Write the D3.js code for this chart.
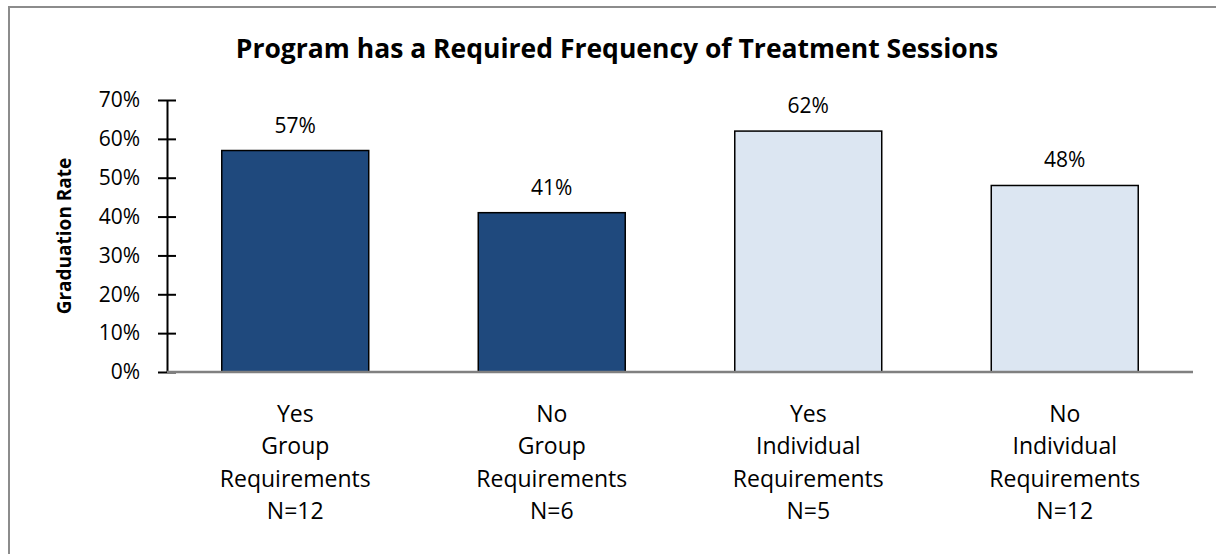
<!DOCTYPE html>
<html>
<head>
<meta charset="utf-8">
<script src="https://cdn.jsdelivr.net/npm/d3@7"></script>
<style>
  html, body { margin: 0; padding: 0; background: #fff; }
  svg { display: block; font-family: "Open Sans", Lato, sans-serif; }
</style>
</head>
<body>
<svg id="chart" width="1216" height="554"></svg>
<script>
const title = "Program has a Required Frequency of Treatment Sessions";
const yTitle = "Graduation Rate";
const answers = ["Yes", "No", "Yes", "No"];
const groups = ["Group", "Group", "Individual", "Individual"];
const nLabels = ["N=12", "N=6", "N=5", "N=12"];
const values = [57, 41, 62, 48];
const yTicks = [0, 10, 20, 30, 40, 50, 60, 70];
const groupColors = { "Group": "#1F497D", "Individual": "#DCE6F2" };

const svg = d3.select("#chart");
const W = 1216, H = 554;
const FONT = "'Open Sans', Lato, sans-serif";

// outer frame (clipped at right and bottom like the reference)
svg.append("rect")
  .attr("x", 9).attr("y", 7)
  .attr("width", W + 20).attr("height", H + 20)
  .attr("fill", "#fff")
  .attr("stroke", "#8c8c8c").attr("stroke-width", 2);

const plot = { left: 167, right: 1193, top: 100, bottom: 372 };

const x = d3.scaleBand()
  .domain(d3.range(values.length))
  .range([plot.left, plot.right])
  .paddingInner(0.427)
  .paddingOuter(0.2135);

const y = d3.scaleLinear()
  .domain([0, 70])
  .range([plot.bottom, plot.top]);

// title
svg.append("text")
  .attr("x", 617).attr("y", 58)
  .attr("text-anchor", "middle")
  .attr("font-weight", "bold")
  .attr("font-size", 26.5)
  .attr("fill", "#000")
  .text(title);

// y-axis title
svg.append("text")
  .attr("transform", `translate(71, ${(plot.top + plot.bottom) / 2}) rotate(-90)`)
  .attr("text-anchor", "middle")
  .attr("font-weight", "bold")
  .attr("font-size", 19)
  .attr("fill", "#000")
  .text(yTitle);

// y axis
const yAxis = d3.axisLeft(y)
  .tickValues(yTicks)
  .tickFormat(d => d + "%")
  .tickSizeInner(9)
  .tickSizeOuter(0)
  .tickPadding(18);

const gy = svg.append("g")
  .attr("transform", `translate(${plot.left},0)`)
  .call(yAxis);
gy.select(".domain").attr("stroke", "#000").attr("stroke-width", 2);
gy.selectAll(".tick line").attr("x1", -9).attr("x2", 9)
  .attr("stroke", "#000").attr("stroke-width", 2);
gy.selectAll(".tick text")
  .attr("font-size", 21)
  .attr("font-family", FONT)
  .attr("fill", "#000");

// bars
svg.append("g").selectAll("rect")
  .data(values)
  .join("rect")
  .attr("x", (d, i) => x(i))
  .attr("y", d => y(d))
  .attr("width", x.bandwidth())
  .attr("height", d => y(0) - y(d))
  .attr("fill", (d, i) => groupColors[groups[i]])
  .attr("stroke", "#000")
  .attr("stroke-width", 1.5);

// x axis line (gray)
svg.append("line")
  .attr("x1", plot.left).attr("x2", plot.right)
  .attr("y1", y(0)).attr("y2", y(0))
  .attr("stroke", "#808080").attr("stroke-width", 2.5);

// value labels
svg.append("g").selectAll("text")
  .data(values)
  .join("text")
  .attr("x", (d, i) => x(i) + x.bandwidth() / 2)
  .attr("y", d => y(d) - 18)
  .attr("text-anchor", "middle")
  .attr("font-size", 21)
  .attr("fill", "#000")
  .text(d => d + "%");

// category labels
const catG = svg.append("g");
values.forEach((v, i) => {
  const lines = [answers[i], groups[i], "Requirements", nLabels[i]];
  const t = catG.append("text")
    .attr("x", x(i) + x.bandwidth() / 2)
    .attr("y", 422)
    .attr("text-anchor", "middle")
    .attr("font-size", 23)
    .attr("fill", "#000");
  lines.forEach((ln, k) => {
    t.append("tspan")
      .attr("x", x(i) + x.bandwidth() / 2)
      .attr("dy", k === 0 ? 0 : 32.4)
      .text(ln);
  });
});
</script>
</body>
</html>
